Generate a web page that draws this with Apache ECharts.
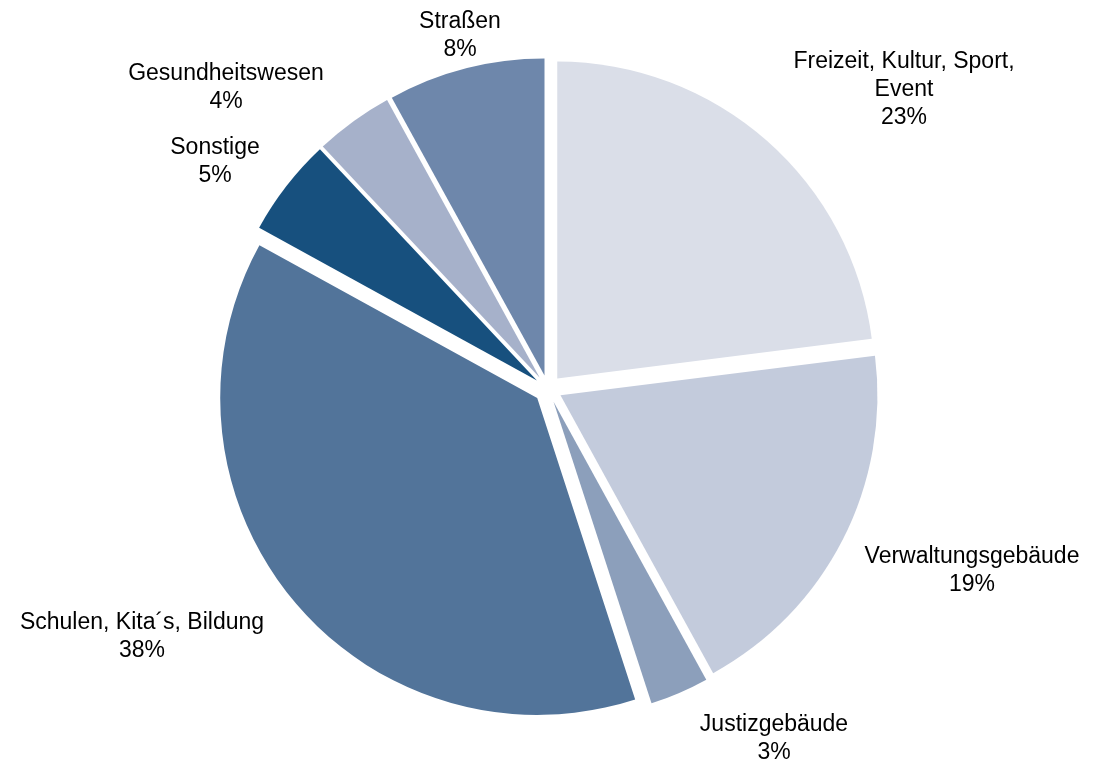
<!DOCTYPE html>
<html>
<head>
<meta charset="utf-8">
<script src="https://cdn.jsdelivr.net/npm/echarts@6/dist/echarts.min.js"></script>
<style>
html,body{margin:0;padding:0;background:#fff;}
#chart{width:1093px;height:760px;}
</style>
</head>
<body>
<div id="chart"></div>
<script>
const categories = ['Freizeit, Kultur, Sport,\nEvent', 'Verwaltungsgebäude', 'Justizgebäude', 'Schulen, Kita´s, Bildung', 'Sonstige', 'Gesundheitswesen', 'Straßen'];
const shares = [23, 19, 3, 38, 5, 4, 8];
const colors = ['#DADEE8', '#C3CBDC', '#8C9FBB', '#52749A', '#17507E', '#A6B1CA', '#6E87AB'];
const labelPos = [[904, 90], [972, 571], [774, 739], [142, 637], [215, 162], [226, 88], [460, 36]];

const chart = echarts.init(document.getElementById('chart'), null, {renderer: 'canvas'});
chart.setOption({
  animation: false,
  backgroundColor: '#ffffff',
  series: [{
    type: 'pie',
    center: [548, 389],
    radius: 317,
    startAngle: 90,
    clockwise: true,
    selectedMode: 'multiple',
    selectedOffset: 14,
    emphasis: {disabled: true},
    label: {show: false},
    labelLine: {show: false},
    itemStyle: {borderWidth: 0},
    data: categories.map((c, i) => ({
      name: c,
      value: shares[i],
      selected: true,
      itemStyle: {color: colors[i]},
      select: {itemStyle: {color: colors[i], borderWidth: 0}}
    }))
  }, {
    type: 'pie',
    center: [548, 389],
    radius: 317,
    startAngle: 90,
    clockwise: true,
    silent: true,
    z: 1,
    avoidLabelOverlap: false,
    emphasis: {disabled: true},
    itemStyle: {color: 'rgba(0,0,0,0)', borderWidth: 0},
    label: {
      show: true,
      position: 'outside',
      formatter: '{b}\n{c}%',
      fontFamily: '"Liberation Sans", Arial, sans-serif',
      fontSize: 23,
      lineHeight: 28,
      color: '#000000',
      align: 'center'
    },
    labelLine: {show: false},
    labelLayout: function (p) {
      const pos = labelPos[p.dataIndex];
      return {x: pos[0], y: pos[1], align: 'center', verticalAlign: 'middle'};
    },
    data: categories.map((c, i) => ({name: c, value: shares[i]}))
  }]
});
</script>
</body>
</html>
